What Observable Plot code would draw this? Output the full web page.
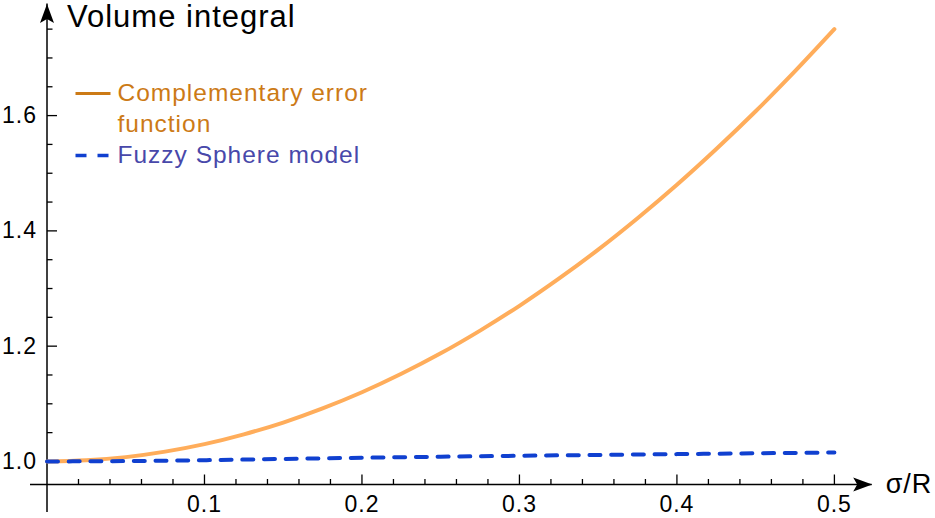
<!DOCTYPE html>
<html>
<head>
<meta charset="utf-8">
<script src="https://cdn.jsdelivr.net/npm/d3@7"></script>
<script src="https://cdn.jsdelivr.net/npm/@observablehq/plot@0.6"></script>
<style>
  body { margin: 0; background: #fff; }
  #chart svg { display: block; }
  #chart svg text { letter-spacing: 1px; }
</style>
</head>
<body>
<div id="chart"></div>
<script>
// ---- data ----
const sigmaErfc = [0, 0.025, 0.05, 0.075, 0.1, 0.125, 0.15, 0.175, 0.2, 0.225, 0.25,
                   0.275, 0.3, 0.325, 0.35, 0.375, 0.4, 0.425, 0.45, 0.475, 0.5];
const volumeErfc = [1.000, 1.002, 1.0075, 1.017, 1.030, 1.047, 1.0675, 1.092, 1.120, 1.152, 1.1875,
                    1.227, 1.270, 1.317, 1.3675, 1.422, 1.480, 1.542, 1.6075, 1.677, 1.750];
const sigmaFuzzy = [0, 0.05, 0.1, 0.15, 0.2, 0.25, 0.3, 0.35, 0.4, 0.45, 0.5];
const volumeFuzzy = [1.000, 1.0006, 1.0022, 1.0043, 1.0064, 1.0082, 1.0098, 1.0113, 1.0127, 1.0141, 1.0156];

const seriesNames = ["Complementary error", "function", "Fuzzy Sphere model"];
const yTitle = "Volume integral";
const xTitle = "σ/R";

const xMajorTicks = [0.1, 0.2, 0.3, 0.4, 0.5];
const xMinorTicks = [0.02, 0.04, 0.06, 0.08, 0.12, 0.14, 0.16, 0.18, 0.22, 0.24, 0.26, 0.28,
                     0.32, 0.34, 0.36, 0.38, 0.42, 0.44, 0.46, 0.48];
const yMajorTicks = [1.0, 1.2, 1.4, 1.6];
const yMinorTicks = [1.05, 1.1, 1.15, 1.25, 1.3, 1.35, 1.45, 1.5, 1.55, 1.65, 1.7, 1.75];

const xDomain = [0, 0.524];
const yDomain = [0.96, 1.7936];

// ---- build tables ----
const erfcData = sigmaErfc.map((s, i) => ({s, v: volumeErfc[i]}));
const fuzzyData = sigmaFuzzy.map((s, i) => ({s, v: volumeFuzzy[i]}));

// ---- custom symbols (tick marks, arrowheads, legend swatches) ----
const tickUp = L => ({draw(c) { c.moveTo(0, 0); c.lineTo(0, -L); }});
const tickRight = L => ({draw(c) { c.moveTo(0, 0); c.lineTo(L, 0); }});
const arrowRight = {draw(c) { c.moveTo(0, 0); c.lineTo(-19, -7); c.lineTo(-15, 0); c.lineTo(-19, 7); c.closePath(); }};
const arrowUp = {draw(c) { c.moveTo(0, 0); c.lineTo(-7, 19); c.lineTo(0, 15); c.lineTo(7, 19); c.closePath(); }};
const swatchSolid = {draw(c) { c.moveTo(0, 0); c.lineTo(35, 0); }};
const swatchDashed = {draw(c) { c.moveTo(0, 0); c.lineTo(11, 0); c.moveTo(22, 0); c.lineTo(33, 0); }};

const orangeLine = "#FFAD5B";
const blueLine = "#1040D0";
const orangeText = "#CC7A16";
const blueText = "#4848AA";
const font = "'Liberation Sans', Arial, Helvetica, sans-serif";

const chart = Plot.plot({
  width: 935,
  height: 518,
  marginLeft: 46.5,
  marginRight: 63.3,
  marginTop: 3.5,
  marginBottom: 34,
  style: {fontFamily: font, fontSize: "23px", color: "black", background: "white", overflow: "visible"},
  x: {domain: xDomain, ticks: xMajorTicks, tickSize: 0, tickPadding: 11, tickFormat: d3.format(".1f"), label: null},
  y: {domain: yDomain, ticks: yMajorTicks, tickSize: 0, tickPadding: 10, tickFormat: d3.format(".1f"), label: null},
  marks: [
    // axis lines
    Plot.ruleY([yDomain[0]], {stroke: "black", strokeWidth: 1.5, insetLeft: -16.5}),
    Plot.ruleX([xDomain[0]], {stroke: "black", strokeWidth: 1.5, insetBottom: -28}),
    // tick marks
    Plot.dot(xMajorTicks, {x: d => d, frameAnchor: "bottom", symbol: tickUp(10), stroke: "black", fill: "none", strokeWidth: 1.3}),
    Plot.dot(xMinorTicks, {x: d => d, frameAnchor: "bottom", symbol: tickUp(5.5), stroke: "black", fill: "none", strokeWidth: 1.3}),
    Plot.dot(yMajorTicks, {y: d => d, frameAnchor: "left", symbol: tickRight(10), stroke: "black", fill: "none", strokeWidth: 1.3}),
    Plot.dot(yMinorTicks, {y: d => d, frameAnchor: "left", symbol: tickRight(5.5), stroke: "black", fill: "none", strokeWidth: 1.3}),
    // arrowheads
    Plot.dot([0], {frameAnchor: "bottom-right", symbol: arrowRight, fill: "black", stroke: "none"}),
    Plot.dot([0], {frameAnchor: "top-left", symbol: arrowUp, fill: "black", stroke: "none"}),
    // series
    Plot.line(erfcData, {x: "s", y: "v", stroke: orangeLine, strokeWidth: 4, curve: "monotone-x"}),
    Plot.line(fuzzyData, {x: "s", y: "v", stroke: blueLine, strokeWidth: 4, strokeDasharray: "11,10.7", curve: "monotone-x"}),
    // axis titles
    Plot.text([yTitle], {frameAnchor: "top-left", dx: 20, dy: 13, textAnchor: "start", lineAnchor: "middle", fontSize: 31, fill: "black"}),
    Plot.text([xTitle], {frameAnchor: "bottom-right", dx: 13.5, dy: 0, textAnchor: "start", lineAnchor: "middle", fontSize: 27, fill: "black"}),
    // legend
    Plot.dot([0], {frameAnchor: "top-left", dx: 28.5, dy: 89.5, symbol: swatchSolid, stroke: orangeText, strokeWidth: 3, fill: "none"}),
    Plot.dot([0], {frameAnchor: "top-left", dx: 28.5, dy: 151.5, symbol: swatchDashed, stroke: blueLine, strokeWidth: 3.5, fill: "none"}),
    Plot.text([seriesNames[0]], {frameAnchor: "top-left", dx: 70.5, dy: 89.5, textAnchor: "start", lineAnchor: "middle", fontSize: 24.5, fill: orangeText}),
    Plot.text([seriesNames[1]], {frameAnchor: "top-left", dx: 70.5, dy: 120.5, textAnchor: "start", lineAnchor: "middle", fontSize: 24.5, fill: orangeText}),
    Plot.text([seriesNames[2]], {frameAnchor: "top-left", dx: 70.5, dy: 151.5, textAnchor: "start", lineAnchor: "middle", fontSize: 24.5, fill: blueText})
  ]
});
document.getElementById("chart").append(chart);
</script>
</body>
</html>
